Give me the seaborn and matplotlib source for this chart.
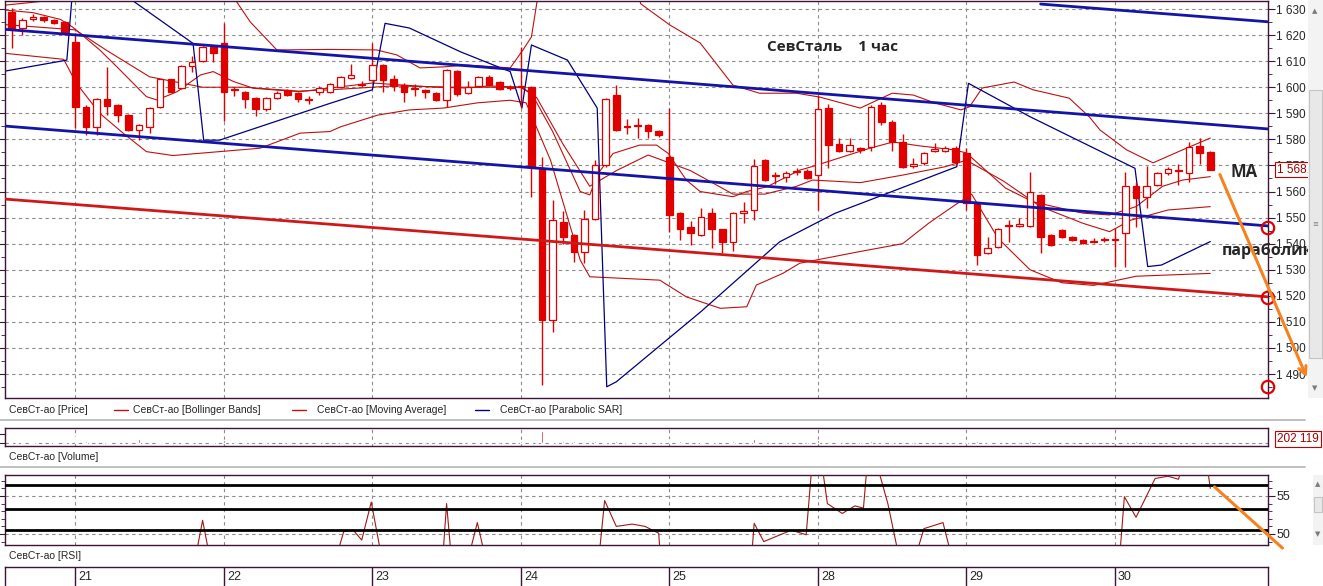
import matplotlib
matplotlib.use('Agg')
import matplotlib.pyplot as plt
from matplotlib import font_manager
from matplotlib.lines import Line2D
from matplotlib.patches import Rectangle
from matplotlib.ticker import FuncFormatter, MultipleLocator
import numpy as np
import pandas as pd
import seaborn as sns


# ---- hourly candles, SevStal (index 0 = last hours of the 20th) ----
candle_open = [
    1629.0, 1622.6, 1626.0, 1627.0, 1625.8, 1625.0, 1617.5, 1592.5, 1584.9, 1595.4,
    1593.2, 1589.3, 1583.5, 1584.7, 1592.3, 1603.0, 1599.6, 1608.3, 1610.2, 1615.5,
    1616.8, 1599.2, 1598.3, 1596.0, 1591.7, 1596.0, 1599.0, 1597.6, 1595.6, 1598.0,
    1598.3, 1600.0, 1603.5, 1601.3, 1602.8, 1608.5, 1603.1, 1600.8, 1599.6, 1598.9,
    1597.9, 1595.1, 1606.2, 1597.8, 1600.4, 1603.8, 1601.9, 1600.2, 1600.6, 1600.2,
    1568.9, 1510.7, 1548.3, 1543.3, 1536.9, 1549.6, 1570.0, 1597.0, 1585.2, 1585.5,
    1585.5, 1583.3, 1573.3, 1551.6, 1546.2, 1543.3, 1551.6, 1545.5, 1540.7, 1551.9,
    1552.8, 1572.0, 1566.2, 1565.7, 1567.8, 1567.8, 1566.3, 1591.9, 1578.2, 1575.7,
    1576.5, 1577.0, 1593.2, 1586.8, 1579.1, 1569.6, 1570.8, 1575.7, 1575.7, 1576.6,
    1574.8, 1555.2, 1536.3, 1538.6, 1547.0, 1546.8, 1546.6, 1558.7, 1543.3, 1545.2,
    1542.4, 1541.5, 1541.2, 1541.7, 1541.4, 1544.2, 1562.0, 1558.0, 1562.5, 1567.0,
    1568.1, 1567.0, 1577.3, 1575.3]
candle_high = [
    1630.5, 1626.5, 1628.0, 1627.5, 1626.2, 1625.5, 1620.8, 1593.0, 1595.8, 1607.9,
    1593.5, 1589.6, 1586.0, 1592.3, 1603.3, 1603.3, 1608.6, 1612.0, 1615.8, 1616.0,
    1624.5, 1600.0, 1598.6, 1596.3, 1596.3, 1598.5, 1599.4, 1598.0, 1596.5, 1600.5,
    1601.6, 1604.2, 1609.0, 1602.5, 1617.0, 1609.0, 1604.5, 1601.5, 1601.3, 1599.5,
    1598.3, 1607.0, 1606.6, 1602.5, 1604.2, 1604.8, 1602.3, 1601.0, 1615.5, 1600.6,
    1573.4, 1556.7, 1552.7, 1543.6, 1553.0, 1572.0, 1595.8, 1600.8, 1588.0, 1588.2,
    1585.8, 1583.6, 1592.0, 1552.0, 1548.5, 1553.5, 1553.5, 1545.8, 1552.3, 1556.0,
    1572.5, 1572.3, 1567.5, 1568.0, 1569.0, 1568.5, 1597.0, 1593.5, 1580.5, 1580.5,
    1577.0, 1593.0, 1594.5, 1587.5, 1582.0, 1573.0, 1575.3, 1578.5, 1577.5, 1577.5,
    1576.5, 1555.5, 1542.5, 1546.0, 1549.0, 1550.0, 1567.5, 1559.0, 1543.7, 1545.5,
    1542.8, 1541.8, 1542.0, 1542.5, 1546.0, 1567.6, 1563.8, 1569.6, 1567.5, 1569.5,
    1570.7, 1579.0, 1580.6, 1575.6]
candle_low = [
    1615.0, 1620.0, 1625.5, 1625.0, 1624.2, 1620.0, 1584.3, 1581.7, 1581.7, 1589.3,
    1586.5, 1583.2, 1579.7, 1582.5, 1592.0, 1598.0, 1599.3, 1606.0, 1609.5, 1609.5,
    1587.0, 1596.5, 1592.0, 1589.0, 1591.0, 1595.5, 1596.5, 1594.5, 1593.5, 1597.0,
    1597.8, 1599.6, 1603.0, 1600.0, 1602.5, 1598.3, 1598.5, 1594.5, 1596.5, 1596.0,
    1594.8, 1592.6, 1596.5, 1597.3, 1600.0, 1600.3, 1598.8, 1599.0, 1592.5, 1558.0,
    1485.8, 1506.2, 1540.0, 1533.0, 1532.5, 1549.0, 1569.5, 1583.2, 1582.0, 1580.5,
    1580.5, 1581.0, 1544.6, 1541.5, 1539.5, 1543.0, 1538.5, 1536.5, 1537.0, 1548.0,
    1549.2, 1564.0, 1563.0, 1563.5, 1566.3, 1564.8, 1553.0, 1569.0, 1575.3, 1575.3,
    1574.6, 1575.5, 1585.5, 1575.7, 1569.0, 1569.2, 1570.3, 1575.2, 1575.3, 1570.0,
    1553.0, 1531.8, 1536.0, 1538.2, 1540.5, 1546.4, 1546.2, 1536.3, 1539.0, 1542.0,
    1541.0, 1540.0, 1540.2, 1540.6, 1531.0, 1531.2, 1546.5, 1553.5, 1562.0, 1566.5,
    1562.5, 1563.5, 1570.6, 1568.2]
candle_close = [
    1622.6, 1625.8, 1627.0, 1625.6, 1624.6, 1620.7, 1592.5, 1584.9, 1595.4, 1592.8,
    1589.3, 1583.6, 1585.5, 1592.0, 1603.0, 1598.3, 1608.3, 1609.8, 1615.5, 1613.0,
    1598.3, 1598.8, 1595.5, 1591.5, 1596.0, 1597.7, 1597.0, 1595.6, 1595.0, 1599.6,
    1601.2, 1603.8, 1604.8, 1600.9, 1608.5, 1602.8, 1600.6, 1598.0, 1599.2, 1598.0,
    1595.1, 1606.6, 1597.4, 1600.2, 1603.8, 1600.8, 1599.3, 1599.8, 1600.0, 1569.5,
    1510.7, 1549.0, 1542.7, 1536.9, 1549.6, 1570.0, 1595.4, 1583.6, 1584.8, 1585.1,
    1583.3, 1581.7, 1551.0, 1545.5, 1544.2, 1550.3, 1545.5, 1540.5, 1551.9, 1552.6,
    1569.6, 1564.4, 1565.8, 1567.2, 1567.4, 1565.3, 1591.5, 1577.8, 1575.7, 1577.8,
    1576.1, 1592.5, 1586.8, 1579.1, 1569.3, 1570.6, 1574.9, 1576.4, 1576.7, 1571.5,
    1555.6, 1535.6, 1538.2, 1545.5, 1546.6, 1547.6, 1560.0, 1542.7, 1539.5, 1542.4,
    1541.5, 1540.3, 1540.8, 1541.3, 1541.8, 1562.0, 1557.4, 1562.2, 1567.0, 1568.5,
    1567.7, 1577.0, 1574.9, 1568.4]
volume = [
    200000, 60000, 40000, 35000, 40000, 60000, 310000, 120000, 70000, 80000,
    50000, 70000, 190000, 60000, 70000, 40000, 50000, 35000, 50000, 40000,
    150000, 40000, 45000, 50000, 35000, 30000, 40000, 35000, 30000, 40000,
    35000, 45000, 40000, 30000, 100000, 60000, 40000, 45000, 30000, 35000,
    40000, 80000, 60000, 35000, 40000, 35000, 30000, 25000, 120000, 270000,
    580000, 390000, 110000, 90000, 100000, 130000, 310000, 90000, 40000, 45000,
    40000, 35000, 190000, 90000, 60000, 70000, 80000, 60000, 90000, 50000,
    180000, 70000, 30000, 35000, 25000, 30000, 150000, 70000, 40000, 35000,
    30000, 90000, 60000, 50000, 60000, 30000, 35000, 25000, 30000, 40000,
    120000, 100000, 45000, 40000, 30000, 25000, 90000, 70000, 40000, 35000,
    25000, 30000, 20000, 25000, 30000, 140000, 120000, 60000, 50000, 35000,
    40000, 80000, 70000, 202119]

day_starts = [6, 20, 34, 48, 62, 76, 90, 104]
day_labels = ['21', '22', '23', '24', '25', '28', '29', '30']

# ---- indicators (candle index, value) ----
bb_up_x = [-0.6, 3, 6.5, 19.5, 21, 22.5, 25, 30, 34.4, 36.3, 38.5, 40.7, 42.9, 47,
           48.2, 49, 50, 58.5, 59.3, 62, 64.9, 68, 70.5, 74, 76.2, 80, 83, 85, 87,
           89.5, 90.3, 91.5, 94.5, 96.3, 99.7, 101.6, 102.6, 105.1, 107.6, 110.4, 113]
bb_up_y = [1631.5, 1633, 1640, 1640, 1634, 1625, 1614.3, 1614.5, 1614.3, 1612.4,
           1607.4, 1607.8, 1608.5, 1607.4, 1614.3, 1619.3, 1645, 1645, 1632, 1624,
           1617, 1600.8, 1597.7, 1597.7, 1596.2, 1592, 1597.7, 1597, 1594, 1591.3,
           1592.5, 1599.7, 1602, 1599, 1595.8, 1588.6, 1583.6, 1576, 1571, 1576, 1580.5]
bb_mid_x = [-0.6, 6, 9, 13, 18, 22, 27, 30, 36, 42, 48, 49.5, 52, 54.5, 57, 60, 64,
            68, 71, 74, 75.5, 80, 84, 88, 90, 93.5, 97, 101, 103.5, 105.5, 109, 113]
bb_mid_y = [1624, 1622, 1614, 1604, 1600, 1600, 1598.5, 1599, 1600.5, 1600, 1600,
            1596, 1578, 1562, 1568, 1574, 1568, 1559, 1559, 1562, 1564.4, 1563.4,
            1566.3, 1569.5, 1572, 1564, 1554.2, 1547.8, 1544.6, 1549, 1552.9, 1554.2]
bb_low_x = [-0.6, 4.9, 6.1, 8.3, 10.5, 12.7, 15.2, 19.6, 23.4, 27.2, 30, 31, 34.5,
            37.5, 40.7, 43.9, 47, 48.5, 50.8, 53.6, 54.5, 61.1, 63.6, 66.8, 69.3,
            70.2, 72.7, 74.3, 80, 84, 86.5, 89, 90.5, 93, 96, 99, 102, 106, 113]
bb_low_y = [1613, 1610.7, 1601.5, 1590, 1582.4, 1575.3, 1573.8, 1575.3, 1576.6,
            1582.4, 1583, 1584.8, 1589.3, 1591.3, 1592, 1594, 1595, 1594, 1572,
            1533.7, 1527.3, 1526, 1519.6, 1515.2, 1515.8, 1524.1, 1528.6, 1532.5,
            1537, 1540, 1548, 1555, 1559, 1542, 1530, 1525, 1524, 1527.5, 1528.6]
ma_x = [-0.6, 2, 4.6, 5.7, 8.3, 9.9, 12.7, 13.7, 15.6, 17.8, 19, 20.9, 22.8, 25,
        27.2, 30, 34, 37, 40, 43, 45, 48, 49, 51, 53.6, 54.5, 55.3, 56.7, 59.2,
        60.8, 61.9, 63.6, 64.9, 68, 69.3, 71.2, 74.3, 75.5, 80.9, 83.1, 85.6, 88.8,
        90, 93.7, 96.3, 101, 103.5, 106, 108.5, 110.4, 113]
ma_y = [1629.6, 1628.6, 1626, 1623.2, 1614.3, 1607.9, 1596.4, 1595.1, 1598.3,
        1604.7, 1606, 1602.2, 1599.6, 1598.9, 1598.3, 1599.7, 1601.6, 1600.8, 1600,
        1599.7, 1600.5, 1600, 1597.7, 1583, 1560, 1558.7, 1567, 1574.6, 1577.8,
        1577.8, 1574.6, 1564.4, 1560, 1558, 1560, 1561.8, 1568.2, 1569.6, 1576.6,
        1579, 1577.5, 1576, 1574.8, 1561.3, 1556, 1551.7, 1551, 1554.2, 1562,
        1564.4, 1565.7]
sar_x = [-0.6, 5.2, 6.0, 11.3, 17.1, 18.1, 19.6, 30, 34, 35.2, 37.5, 42.3, 45.8, 47,
         48.1, 49, 52.4, 55.2, 56.1, 57, 65, 72.4, 77.6, 89.1, 90.2, 96, 105.9,
         107.1, 108.4, 113]
sar_y = [1606.2, 1610.4, 1650, 1633.5, 1616.8, 1579.7, 1579.7, 1593.8, 1599, 1624.5,
         1622.7, 1613.6, 1607.9, 1606, 1592, 1616.2, 1610.4, 1592, 1485.1, 1487,
         1514, 1540.7, 1551.6, 1569.5, 1601.5, 1588.7, 1568.9, 1531.2, 1531.8, 1540.8]
rsi_x = [-0.6, 17.2, 18, 18.8, 30.4, 31.3, 32.2, 33, 33.9, 35, 40.6, 41, 41.5, 42.9,
         43.9, 44.8, 55.3, 55.9, 57, 58.5, 59.7, 61, 61.2, 69.7, 70, 70.9, 73.5,
         74.9, 75.5, 76.3, 76.9, 78.3, 79.5, 80.3, 80.7, 81.4, 82.6, 83.8, 85, 86,
         87.8, 88.8, 104.4, 104.9, 106, 107.8, 109, 110, 110.6, 112.6, 113]
rsi_y = [46, 46, 51.8, 46, 46, 50.3, 50.5, 49.2, 54.2, 46, 46, 54.0, 46, 46, 51.5,
         46, 46, 54.4, 51, 51.3, 51, 50.1, 46, 46, 51.4, 49, 50.5, 49.9, 60, 60, 54,
         52.7, 53.7, 53.4, 60, 60, 54, 46, 46, 50.7, 51.5, 46, 46, 54.9, 52.2, 57.3,
         57.6, 57.2, 60, 60, 56]
rsi_levels = [56.45, 53.3, 50.5]

# ---- hand-drawn trend channel and notes ----
channel_up_x, channel_up_y = [-0.63, 118.44], [1622.2, 1584.0]
channel_low_x, channel_low_y = [-0.63, 118.44], [1585.1, 1546.8]
channel_top_x, channel_top_y = [97.0, 118.44], [1631.9, 1625.1]
support_x, support_y = [-0.63, 118.44], [1557.1, 1519.6]
circle_levels = [1546.0, 1519.2, 1485.0]

RED = '#e00000'
THIN_RED = '#c01010'
NAVY = '#000080'
BLUE = '#1414a8'
FRAME = '#3c1436'
ORANGE = '#f5821f'
BOLD = ['Open Sans', 'DejaVu Sans']

# the terminal uses a narrow UI font; fall back to Liberation Sans, a bit smaller
installed = {f.name for f in font_manager.fontManager.ttflist}
if 'Liberation Sans Narrow' in installed:
    UI = ['Liberation Sans Narrow', 'DejaVu Sans']
    FS_SMALL, FS_TICK = 8.5, 10
else:
    UI = ['Liberation Sans', 'DejaVu Sans']
    FS_SMALL, FS_TICK = 7.5, 8.5

sns.set_style('white')
plt.rcParams['font.family'] = UI
plt.rcParams['axes.linewidth'] = 1.0

W, H = 1323, 586
fig = plt.figure(figsize=(W / 100, H / 100), dpi=100)
fig.patch.set_facecolor('white')


def px_axes(x0, y0, x1, y1):
    return fig.add_axes([x0 / W, 1 - y1 / H, (x1 - x0) / W, (y1 - y0) / H])


def thin_line(a, xs, ys, color, lw, z=2):
    sns.lineplot(x=xs, y=ys, ax=a, color=color, lw=lw, sort=False,
                 estimator=None, legend=False, zorder=z)


XL = (-0.63, 118.44)
ax = px_axes(5, 1, 1268, 398)
axv = px_axes(5, 428, 1268, 446)
axr = px_axes(5, 475, 1268, 545)
axd = px_axes(5, 567, 1268, 586)

for a in (ax, axv, axr, axd):
    a.set_xlim(*XL)
    for s in a.spines.values():
        s.set_color(FRAME)
    a.set_xticks(day_starts)
    a.tick_params(axis='x', length=0, labelbottom=False)
    a.set_facecolor('white')

# ---- price panel ----
df = pd.DataFrame({'o': candle_open, 'h': candle_high, 'l': candle_low, 'c': candle_close})
df['k'] = np.arange(len(df))
rising = df['c'] > df['o']
ax.vlines(df['k'], df['l'], df['h'], color=RED, lw=1, zorder=4)
ax.bar(df['k'], (df['c'] - df['o']).abs().clip(lower=0.35),
       bottom=df[['o', 'c']].min(axis=1), width=0.62,
       color=np.where(rising, 'white', RED), edgecolor=RED, lw=0.9, zorder=5)

thin_line(ax, bb_up_x, bb_up_y, THIN_RED, 0.8)
thin_line(ax, bb_mid_x, bb_mid_y, THIN_RED, 0.8)
thin_line(ax, bb_low_x, bb_low_y, THIN_RED, 0.8)
thin_line(ax, ma_x, ma_y, THIN_RED, 0.8)
thin_line(ax, sar_x, sar_y, NAVY, 0.9)
thin_line(ax, channel_up_x, channel_up_y, BLUE, 2.0, 6)
thin_line(ax, channel_low_x, channel_low_y, BLUE, 2.0, 6)
thin_line(ax, channel_top_x, channel_top_y, BLUE, 2.0, 6)
thin_line(ax, support_x, support_y, '#d01818', 2.0, 6)

ax.set_ylim(1480.8, 1633.07)
ax.set_yticks(np.arange(1490, 1631, 10))
ax.yaxis.set_minor_locator(MultipleLocator(5))
ax.yaxis.set_major_formatter(FuncFormatter(lambda v, p: f'{int(v):,}'.replace(',', ' ')))
ax.tick_params(axis='y', which='both', left=True, right=True, labelleft=False,
               labelright=True, direction='out', color=FRAME, labelsize=FS_TICK, pad=1)
ax.tick_params(axis='y', which='major', length=5)
ax.tick_params(axis='y', which='minor', length=3)
ax.grid(True, which='major', ls=(0, (3, 3)), color='#8c8c8c', lw=0.8)
ax.set_xlabel('')
ax.set_ylabel('')

ax.text(71.2, 1615.5, 'СевСталь    1 час', fontsize=11, fontweight='bold',
        family=BOLD, va='center', ha='left', zorder=8)
ax.text(114.9, 1567.3, 'MA', fontsize=12, fontweight='bold', family=BOLD,
        va='center', ha='left', clip_on=False, zorder=8)
ax.text(114.07, 1535.5, 'параболик', fontsize=11.5, fontweight='bold', family=BOLD,
        va='baseline', ha='left', clip_on=False, zorder=8)
ax.text(119.25, candle_close[-1], '1 568,4', fontsize=FS_TICK, color='#a00000',
        va='center', ha='left', clip_on=False, zorder=9,
        bbox=dict(boxstyle='square,pad=0.15', fc='white', ec='#c00000', lw=0.8))
ax.scatter([XL[1]] * len(circle_levels), circle_levels, s=80, facecolors='none',
           edgecolors='#e00000', linewidths=1.6, clip_on=False, zorder=9)
ax.annotate('', xy=(122.2, 1487.7), xytext=(113.8, 1567.5), annotation_clip=False,
            arrowprops=dict(arrowstyle='->', color=ORANGE, lw=2.2, mutation_scale=14),
            zorder=9)

# ---- volume panel ----
axv.bar(np.arange(len(volume)), volume, width=0.15, color=THIN_RED, zorder=3)
axv.set_ylim(-127000, 719000)
axv.set_yticks([0, 437000])
axv.yaxis.set_major_formatter(FuncFormatter(lambda v, p: ''))
axv.tick_params(axis='y', left=True, right=False, length=4, color=FRAME)
axv.axhline(0, ls=(0, (3, 3)), color='#8c8c8c', lw=0.8, zorder=1)
for d in day_starts:
    axv.axvline(d, ls=(0, (3, 3)), color='#8c8c8c', lw=0.8, zorder=1)
axv.text(119.3, volume[-1], '202 119', fontsize=FS_TICK, color='#a00000', va='center',
         ha='left', clip_on=False,
         bbox=dict(boxstyle='square,pad=0.15', fc='white', ec='#c00000', lw=0.8))

# ---- RSI panel ----
thin_line(axr, rsi_x, rsi_y, '#a01818', 0.8, 3)
for lvl in rsi_levels:
    axr.axhline(lvl, color='black', lw=2.0, zorder=4)
axr.set_ylim(48.55, 57.76)
axr.set_yticks([50, 55])
axr.yaxis.set_minor_locator(MultipleLocator(1))
axr.tick_params(axis='y', which='both', left=True, right=True, labelleft=False,
                labelright=True, direction='out', color=FRAME, labelsize=FS_TICK + 0.5,
                pad=1)
axr.tick_params(axis='y', which='major', length=5)
axr.tick_params(axis='y', which='minor', length=3)
axr.grid(True, which='major', ls=(0, (3, 3)), color='#8c8c8c', lw=0.8)
axr.annotate('', xy=(120.0, 47.9), xytext=(113.2, 56.45), annotation_clip=False,
             arrowprops=dict(arrowstyle='-', color=ORANGE, lw=2.2), zorder=9)

# ---- date strip ----
axd.set_ylim(0, 1)
axd.set_yticks([])
axd.spines['bottom'].set_visible(False)
for d, lab in zip(day_starts, day_labels):
    axd.axvline(d, color=FRAME, lw=1)
    axd.text(d + 0.3, 0.48, lab, fontsize=FS_TICK + 0.5, va='center', ha='left')

# ---- captions, separators and scrollbars ----
fig.text(9 / W, 1 - 410 / H, 'СевСт-ао [Price]', fontsize=FS_SMALL, va='center')
legend_items = [(114, 133, 'СевСт-ао [Bollinger Bands]', '#c01010'),
                (292, 317, 'СевСт-ао [Moving Average]', '#c01010'),
                (475, 500, 'СевСт-ао [Parabolic SAR]', NAVY)]
for x0, xt, lab, col in legend_items:
    fig.add_artist(Line2D([x0 / W, (x0 + 14) / W], [1 - 410 / H] * 2, color=col, lw=1))
    fig.text(xt / W, 1 - 410 / H, lab, fontsize=FS_SMALL, va='center')
fig.text(9 / W, 1 - 457 / H, 'СевСт-ао [Volume]', fontsize=FS_SMALL, va='center')
fig.text(9 / W, 1 - 556 / H, 'СевСт-ао [RSI]', fontsize=FS_SMALL, va='center')
for yy in (420, 467):
    fig.add_artist(Line2D([0, 1305 / W], [1 - yy / H] * 2, color='#b4b4b4', lw=1.2))

fig.add_artist(Rectangle((1308 / W, 1 - 398 / H), 15 / W, 398 / H, fc='#f3f3f3',
                         ec='none'))
fig.add_artist(Rectangle((1309 / W, 1 - 358 / H), 13 / W, 268 / H, fc='#e8e8e8',
                         ec='#c4c4c4', lw=0.8))
fig.add_artist(Rectangle((1313 / W, 1 - 545 / H), 10 / W, 70 / H, fc='#f3f3f3',
                         ec='none'))
fig.add_artist(Rectangle((1314 / W, 1 - 512 / H), 8 / W, 15 / H, fc='#e8e8e8',
                         ec='#c4c4c4', lw=0.8))
for xx, yy, ch in [(1315, 11, '▲'), (1315, 388, '▼'), (1315, 224, '≡'),
                   (1318, 484, '▲'), (1318, 534, '▼')]:
    fig.text(xx / W, 1 - yy / H, ch, fontsize=5, color='#7a7a7a', ha='center',
             va='center', family=['DejaVu Sans'])

fig.savefig('out.png', dpi=100)
